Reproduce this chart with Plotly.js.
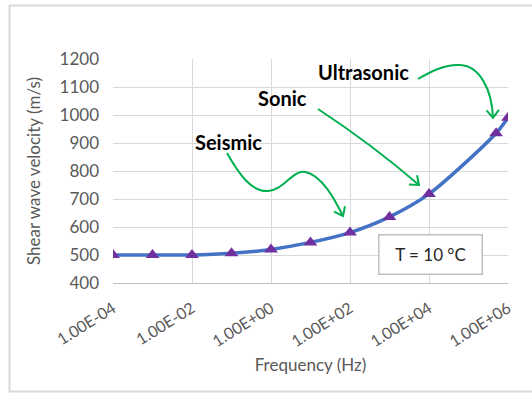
<!DOCTYPE html>
<html>
<head>
<meta charset="utf-8">
<script src="https://cdn.plot.ly/plotly-3.0.1.min.js"></script>
<style>html,body{margin:0;padding:0;background:#fff;}#chart{width:532px;height:393px;}</style>
</head>
<body>
<div id="chart"></div>
<script>
// Data
var frequency = [1e-4, 1e-3, 1e-2, 1e-1, 1, 10, 100, 1000, 1e4, 5e5, 1e6];
var velocity = [500, 500, 500, 506, 520, 545, 580, 636, 718, 935, 990];
var xTickVals = [1e-4, 1e-2, 1, 100, 1e4, 1e6];
var xTickText = ["1.00E-04", "1.00E-02", "1.00E+00", "1.00E+02", "1.00E+04", "1.00E+06"];
var yTickVals = [400, 500, 600, 700, 800, 900, 1000, 1100, 1200];

// plot-area pixel helpers for decorations (paper coords)
var L = 113, R = 508, T = 59, B = 283;
function px(x){ return (x - L) / (R - L); }
function py(y){ return (B - y) / (B - T); }
function pathFrom(cmds){
  return cmds.map(function(c){
    var s = c[0];
    for (var i = 1; i < c.length; i += 2) {
      s += (i > 1 ? ' ' : '') + px(c[i]).toFixed(5) + ',' + py(c[i+1]).toFixed(5);
    }
    return s;
  }).join(' ');
}
function arrowHead(tx, ty, dx, dy){
  var len = 10, ang = 38 * Math.PI / 180;
  var n = Math.sqrt(dx*dx + dy*dy); dx /= n; dy /= n;
  var bx = -dx, by = -dy;
  var a1x = tx + len*(bx*Math.cos(ang) - by*Math.sin(ang));
  var a1y = ty + len*(bx*Math.sin(ang) + by*Math.cos(ang));
  var a2x = tx + len*(bx*Math.cos(-ang) - by*Math.sin(-ang));
  var a2y = ty + len*(bx*Math.sin(-ang) + by*Math.cos(-ang));
  return pathFrom([['M', a1x, a1y], ['L', tx, ty], ['L', a2x, a2y]]);
}
var green = '#00B050';
function arrowShape(p){
  return {type:'path', xref:'paper', yref:'paper', path:p, line:{color:green, width:2}, layer:'above'};
}

var shapes = [
  // outer frame
  {type:'rect', xref:'paper', yref:'paper', x0:px(9.5), x1:px(545), y0:py(391.5), y1:py(5.5),
   line:{color:'#d9d9d9', width:2}, fillcolor:'rgba(0,0,0,0)', layer:'below'},
  // Seismic arrow
  arrowShape(pathFrom([['M',227,153],['C',240,176,252,192,268,191],['C',284,190,292,170,305,172],['C',322,175,335,200,343,216]])),
  arrowShape(arrowHead(343,216,8,16)),
  // Sonic arrow
  arrowShape(pathFrom([['M',318,109],['C',350,130,390,160,419,185]])),
  arrowShape(arrowHead(419,185,29,25)),
  // Ultrasonic arrow
  arrowShape(pathFrom([['M',418,79],['C',430,72,445,64,460,65],['C',480,66,492,90,493,118]])),
  arrowShape(arrowHead(493,118,1,28))
];

var FAM = 'Lato, "Open Sans", sans-serif';
var labelFont = {family:FAM, size:20, color:'#000000', weight:'bold'};
var annotations = [
  {xref:'paper', yref:'paper', x:px(228), y:py(142), text:'<b>Seismic</b>', showarrow:false, font:labelFont, xanchor:'center', yanchor:'middle'},
  {xref:'paper', yref:'paper', x:px(282), y:py(98), text:'<b>Sonic</b>', showarrow:false, font:labelFont, xanchor:'center', yanchor:'middle'},
  {xref:'paper', yref:'paper', x:px(363), y:py(72), text:'<b>Ultrasonic</b>', showarrow:false, font:labelFont, xanchor:'center', yanchor:'middle'},
  {xref:'paper', yref:'paper', x:px(430), y:py(254), text:'T = 10 °C', showarrow:false,
   font:{family:FAM, size:17, color:'#262626'},
   xanchor:'center', yanchor:'middle', width:100, height:36, bordercolor:'#bfbfbf', borderwidth:1.5, bgcolor:'#ffffff'}
];

var trace = {
  x: frequency, y: velocity, type:'scatter', mode:'lines+markers',
  line:{color:'#4472C4', width:3.5, shape:'spline', smoothing:0.8},
  marker:{symbol:'triangle-up', size:12, color:'#7030A0'},
  hoverinfo:'x+y'
};

var axisFont = {family:FAM, size:17, color:'#595959'};
var layout = {
  width:532, height:393,
  margin:{l:L, r:532-R, t:T, b:393-B},
  paper_bgcolor:'#ffffff', plot_bgcolor:'#ffffff',
  showlegend:false,
  font:axisFont,
  xaxis:{
    type:'log', range:[-4, 6], tickvals:xTickVals, ticktext:xTickText, tickangle:-32,
    showgrid:true, gridcolor:'#d9d9d9', gridwidth:1, showline:true, linecolor:'#bfbfbf', linewidth:1,
    mirror:false, zeroline:false, ticks:'', tickfont:{family:FAM, size:16, color:'#595959'}, ticklabelstandoff:9,
    title:{text:'Frequency (Hz)', font:{family:FAM, size:17, color:'#595959'}, standoff:10}
  },
  yaxis:{
    range:[400, 1200], tickvals:yTickVals, showgrid:true, gridcolor:'#d9d9d9', gridwidth:1,
    showline:false, zeroline:false, ticks:'', tickfont:axisFont, ticklabelstandoff:13,
    title:{text:'Shear wave velocity (m/s)', font:{family:FAM, size:17, color:'#595959'}, standoff:14}
  },
  shapes:shapes,
  annotations:annotations
};

Plotly.newPlot('chart', [trace], layout, {displayModeBar:false, staticPlot:true});
</script>
</body>
</html>
